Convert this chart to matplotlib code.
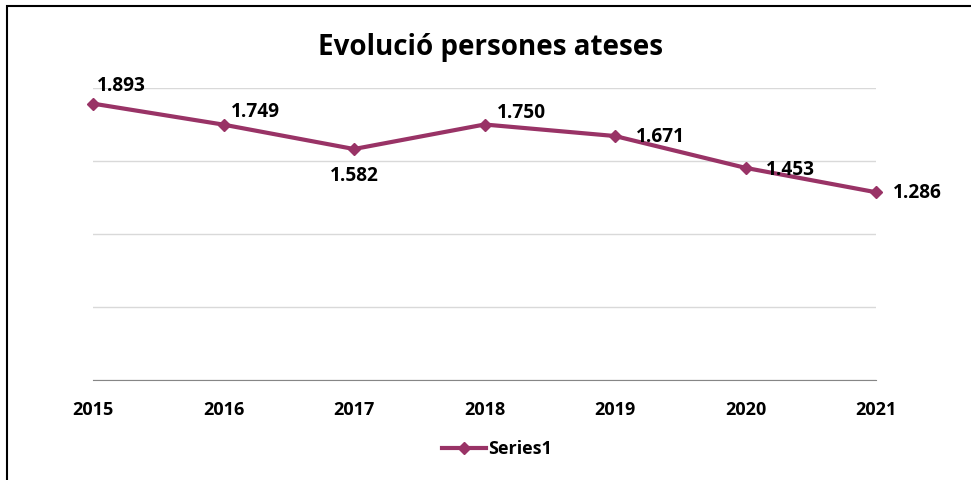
from matplotlib import pyplot as plt
from matplotlib.patches import Rectangle

years = [2015, 2016, 2017, 2018, 2019, 2020, 2021]
persones = [1893, 1749, 1582, 1750, 1671, 1453, 1286]
labels = ['1.893', '1.749', '1.582', '1.750', '1.671', '1.453', '1.286']

# posicio de cada etiqueta (pixels respecte del punt)
label_offsets = [(4, 18, 'left'), (7, 13, 'left'), (0, -27, 'center'), (12, 11, 'left'),
                 (21, -1, 'left'), (20, -2, 'left'), (17, -1, 'left')]

plt.rcParams['font.family'] = ['Open Sans', 'DejaVu Sans']
color = '#993366'

fig = plt.figure(figsize=(9.71, 4.8), dpi=100)
ax = fig.add_axes([93 / 971, 1 - 380 / 480, (876 - 93) / 971, (380 - 88) / 480])

ax.plot(years, persones, color=color, linewidth=3, marker='D', markersize=6,
        label='Series1', zorder=3, clip_on=False)

for x, y, txt, (dx, dy, ha) in zip(years, persones, labels, label_offsets):
    ax.annotate(txt, (x, y), xytext=(dx, dy), textcoords='offset pixels',
                ha=ha, va='center', fontsize=13.8, fontweight='bold', color='black')

ax.set_xlim(2015, 2021)
ax.set_ylim(0, 2000)
ax.set_yticks([0, 500, 1000, 1500, 2000])
ax.set_yticklabels([])
ax.set_xticks(years)
ax.set_xticklabels([str(y) for y in years], fontsize=13, fontweight='bold')
ax.tick_params(axis='both', length=0)
ax.tick_params(axis='x', pad=15)
ax.grid(axis='y', color='#d9d9d9', linewidth=1)
for side in ['top', 'right', 'left']:
    ax.spines[side].set_visible(False)
ax.spines['bottom'].set_color('#868686')

fig.text(490 / 971, 1 - 47 / 480, 'Evolució persones ateses', ha='center', va='center',
         fontsize=20, fontweight='bold')

ax.legend(loc='center', bbox_to_anchor=(497 / 971, 1 - 449 / 480), bbox_transform=fig.transFigure,
          frameon=False, prop={'size': 13, 'weight': 'bold'}, handlelength=2.45, handletextpad=0.1)

# marc del grafic
fig.patches.append(Rectangle((7 / 971, -0.1), 1.2, 1 - 6 / 480 + 0.1, transform=fig.transFigure,
                             fill=False, edgecolor='black', linewidth=1.5))

fig.savefig('out.png', dpi=100)
